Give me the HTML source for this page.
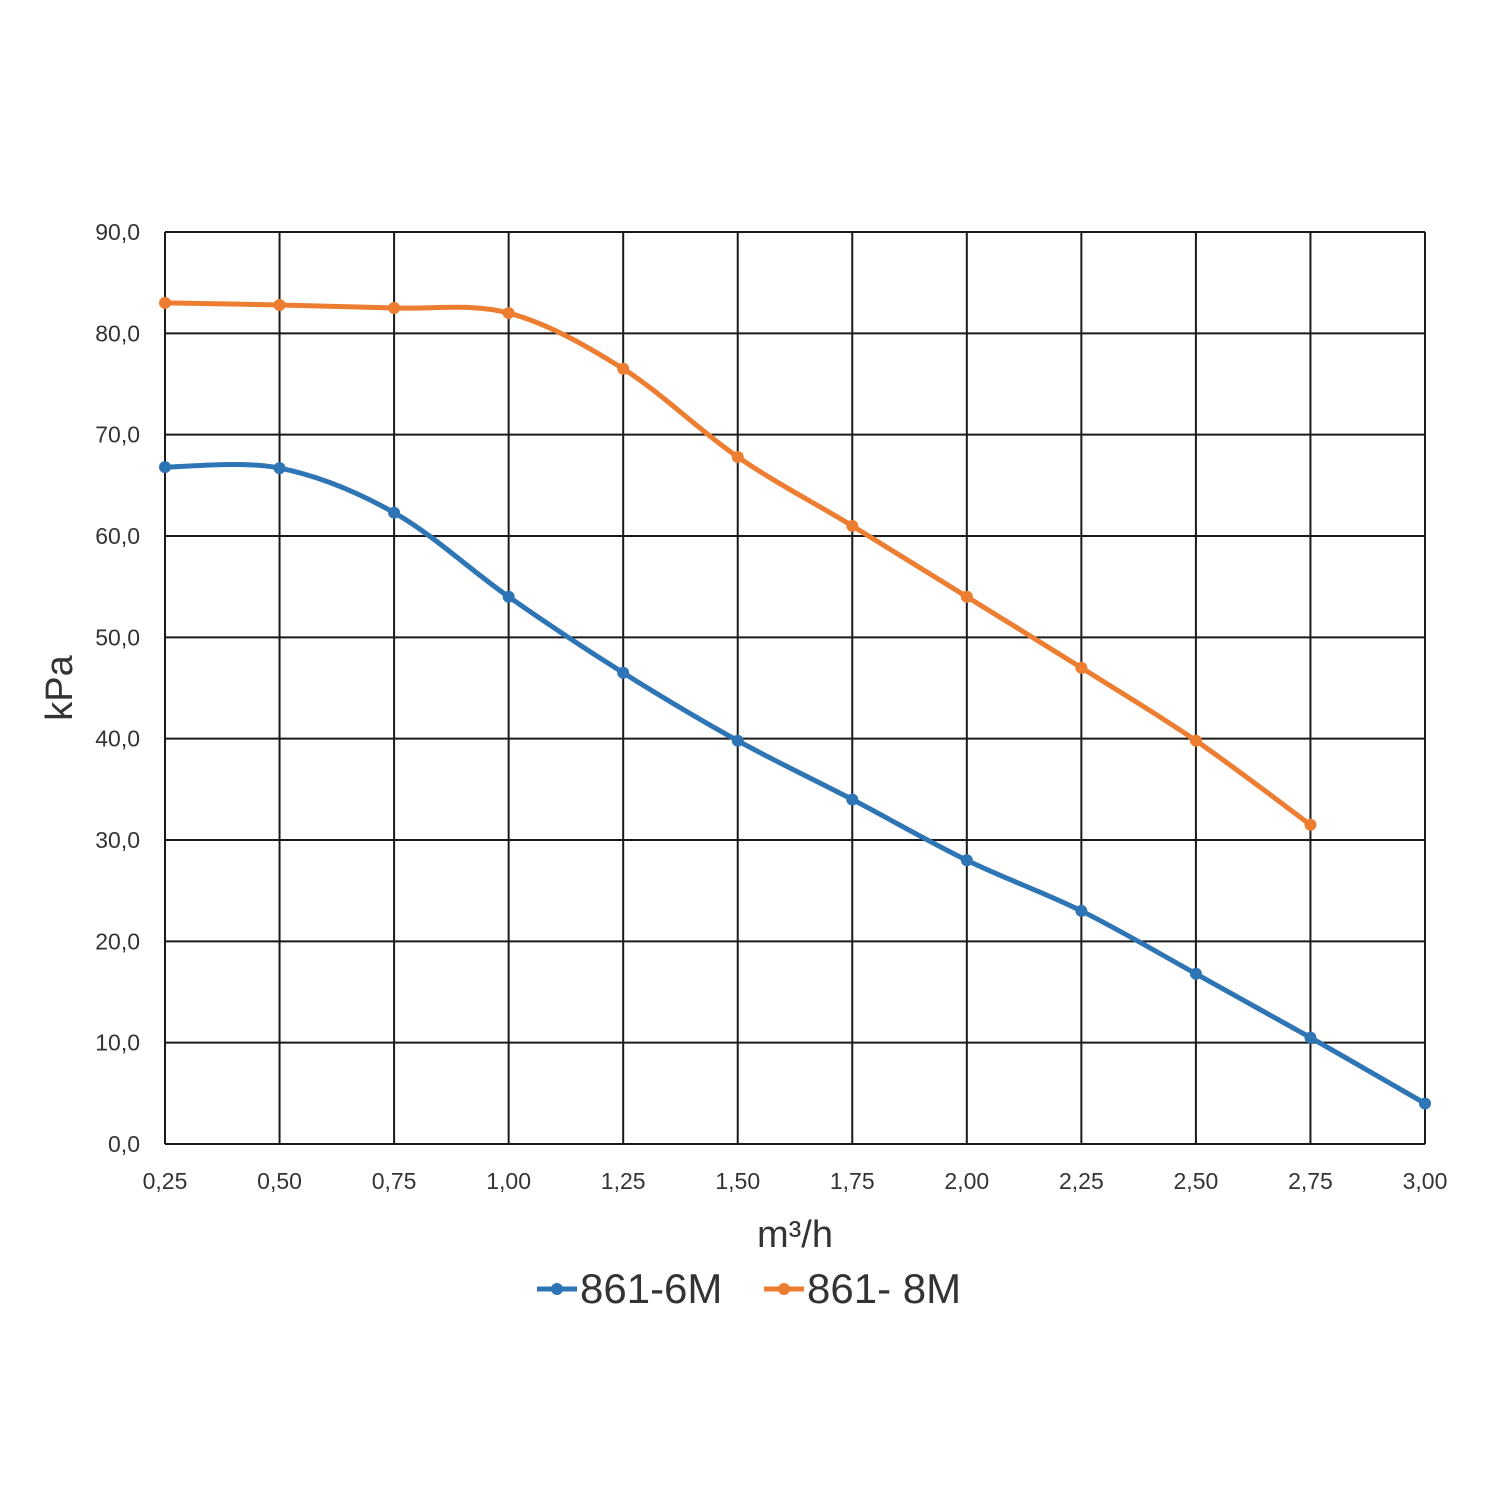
<!DOCTYPE html>
<html><head><meta charset="utf-8"><style>
html,body{margin:0;padding:0;background:#fff;}
svg{display:block;}
text{font-family:"Liberation Sans",sans-serif;}
</style></head><body>
<svg id="s" width="1500" height="1500" viewBox="0 0 1500 1500">
<g id="grid" stroke="#1a1a1a" stroke-width="2" fill="none"></g>
<g id="lab" fill="#333" font-size="23"></g>
<text x="795" y="1247" font-size="38" fill="#333" text-anchor="middle">m³/h</text>
<text transform="translate(72,688) rotate(-90)" font-size="38" fill="#333" text-anchor="middle">kPa</text>
<g id="series"></g>
<line x1="537" y1="1289" x2="577" y2="1289" stroke="#2e75b6" stroke-width="5"/>
<circle cx="557" cy="1289" r="6" fill="#2e75b6"/>
<text x="580" y="1303" font-size="42" fill="#333">861-6M</text>
<line x1="764" y1="1289" x2="804" y2="1289" stroke="#ed7d31" stroke-width="5"/>
<circle cx="784" cy="1289" r="6" fill="#ed7d31"/>
<text x="807" y="1303" font-size="42" fill="#333">861- 8M</text>
</svg>
<script>
var NS="http://www.w3.org/2000/svg";
function el(t,a,p,txt){var e=document.createElementNS(NS,t);for(var k in a)e.setAttribute(k,a[k]);if(txt)e.textContent=txt;p.appendChild(e);return e;}
var x0=165,x1=1425,y0=1144,y1=232;
function X(v){return x0+(v-0.25)/2.75*(x1-x0);}
function Y(v){return y0-v/90*(y0-y1);}
var g=document.getElementById('grid'),l=document.getElementById('lab');
for(var i=0;i<=9;i++){var y=Y(i*10);el('line',{x1:x0,x2:x1,y1:y,y2:y},g);
el('text',{x:140,y:y+8,'text-anchor':'end'},l,(i*10).toFixed(1).replace('.',','));}
for(var i=0;i<12;i++){var v=0.25+i*0.25,x=X(v);el('line',{x1:x,x2:x,y1:y1,y2:y0},g);
el('text',{x:x,y:1189,'text-anchor':'middle'},l,v.toFixed(2).replace('.',','));}
var s=document.getElementById('series');
function draw(d,c){var p=d.map(function(v,i){return [X(0.25+i*0.25),Y(v)];});
var str='M'+p[0][0]+','+p[0][1];
for(var i=0;i<p.length-1;i++){var a=p[i-1]||p[i],b=p[i],c2=p[i+1],e=p[i+2]||c2;
str+=' C'+(b[0]+(c2[0]-a[0])/6)+','+(b[1]+(c2[1]-a[1])/6)+' '+(c2[0]-(e[0]-b[0])/6)+','+(c2[1]-(e[1]-b[1])/6)+' '+c2[0]+','+c2[1];}
el('path',{d:str,stroke:c,'stroke-width':5,fill:'none'},s);
p.forEach(function(q){el('circle',{cx:q[0],cy:q[1],r:6,fill:c},s);});}
draw([66.8,66.7,62.3,54,46.5,39.8,34,28,23,16.8,10.5,4],'#2e75b6');
draw([83,82.8,82.5,82,76.5,67.8,61,54,47,39.8,31.5],'#ed7d31');
</script>
</body></html>
